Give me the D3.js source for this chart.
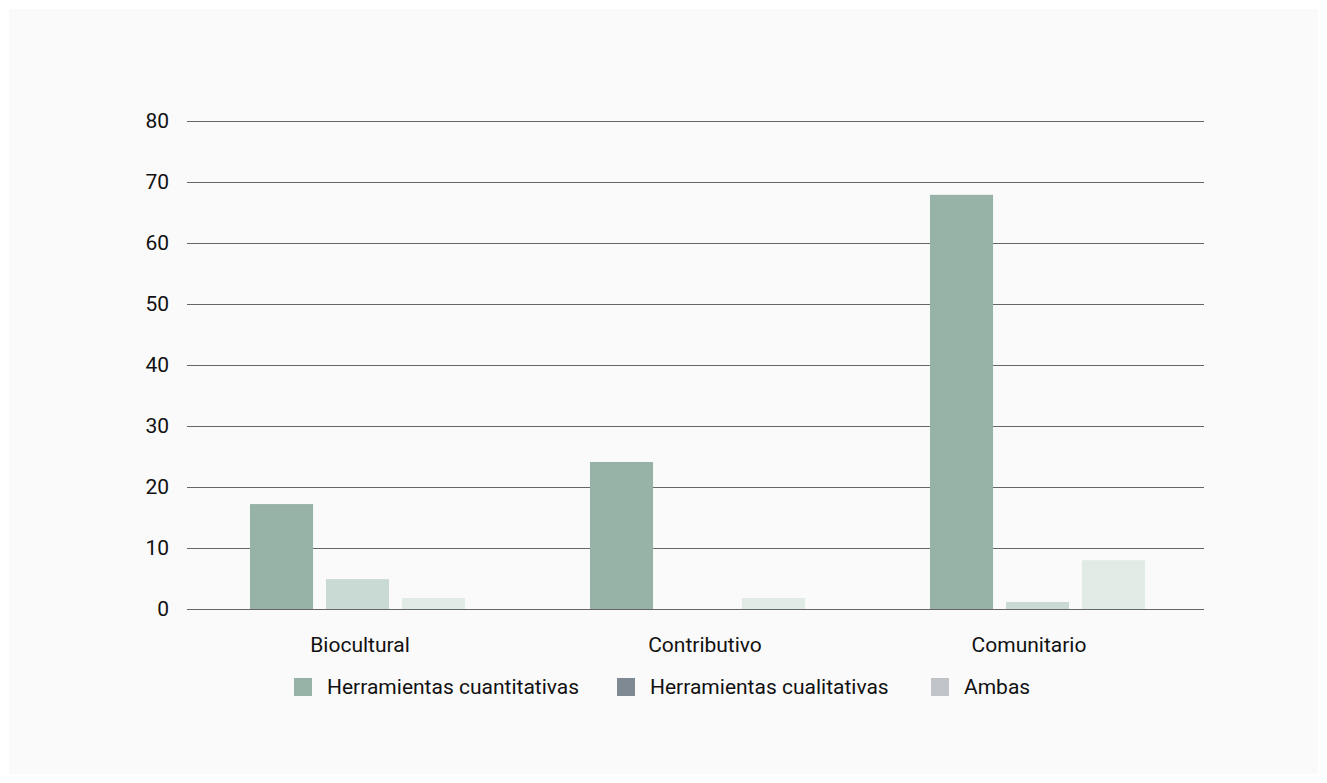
<!DOCTYPE html>
<html lang="es">
  <head>
    <meta charset="utf-8">
    <title>Herramientas por enfoque</title>
    <script src="https://cdnjs.cloudflare.com/ajax/libs/d3/7.8.5/d3.min.js"></script>
    <style type="text/css">
      body {
        margin: 0;
        background: #ffffff;
      }
      .tick-label, .cat-label, .legend-label {
        font-family: 'Roboto', sans-serif;
        font-size: 21px;
        fill: #111;
      }
    </style>
  </head>
  <body>
    <svg id="chart"></svg>
    <script type="text/javascript">
var categories = ["Biocultural", "Contributivo", "Comunitario"];
var series = ["Herramientas cuantitativas", "Herramientas cualitativas", "Ambas"];
var cuantitativas = [17.2, 24.1, 67.9];
var cualitativas = [4.9, 0, 1.15];
var ambas = [1.8, 1.8, 8.0];
var yTicks = [0, 10, 20, 30, 40, 50, 60, 70, 80];

var barColors = ["#97b2a7", "#c9d9d3", "#e0ebe6"];
var legendColors = ["#97b2a7", "#7f8993", "#c0c4c8"];

var values = [cuantitativas, cualitativas, ambas];

var w = 1327;
var h = 783;

var svg = d3.select("#chart")
  .attr("width", w)
  .attr("height", h);

// background panel
svg.append("rect")
  .attr("x", 9)
  .attr("y", 9)
  .attr("width", 1309)
  .attr("height", 765)
  .attr("fill", "#fafafa");

var x0 = d3.scaleBand().domain(categories).range([187, 1207]);
var x1 = d3.scaleBand().domain(series).range([63, 278]).paddingInner(0.17);
var yScale = d3.scaleLinear().domain([0, 80]).range([609, 121]);

// gridlines
svg.append("g").selectAll("line")
  .data(yTicks)
  .enter().append("line")
  .attr("x1", 187)
  .attr("x2", 1204)
  .attr("y1", function(d) { return Math.round(yScale(d)) + 0.5; })
  .attr("y2", function(d) { return Math.round(yScale(d)) + 0.5; })
  .attr("stroke", "#666")
  .attr("stroke-width", 1);

// y labels
svg.append("g").selectAll("text")
  .data(yTicks)
  .enter().append("text")
  .attr("class", "tick-label")
  .attr("x", 169)
  .attr("y", function(d) { return yScale(d) + 7; })
  .attr("text-anchor", "end")
  .text(function(d) { return d; });

// bars
series.forEach(function(s, si) {
  svg.append("g").selectAll("rect")
    .data(categories)
    .enter().append("rect")
    .attr("x", function(c) { return x0(c) + x1(s); })
    .attr("width", x1.bandwidth())
    .attr("y", function(c, i) { return yScale(values[si][i]); })
    .attr("height", function(c, i) { return yScale(0) - yScale(values[si][i]); })
    .attr("fill", barColors[si]);
});

// redraw the zero line over the bars
svg.append("line")
  .attr("x1", 187)
  .attr("x2", 1204)
  .attr("y1", Math.round(yScale(0)) + 0.5)
  .attr("y2", Math.round(yScale(0)) + 0.5)
  .attr("stroke", "#666");

// category labels (nudged like the original)
var labelNudge = [3, 8, -8];
svg.append("g").selectAll("text")
  .data(categories)
  .enter().append("text")
  .attr("class", "cat-label")
  .attr("x", function(c, i) { return x0(c) + x0.bandwidth() / 2 + labelNudge[i]; })
  .attr("y", 652)
  .attr("text-anchor", "middle")
  .text(function(c) { return c; });

// legend
var legendX = [294, 617, 931];
var legend = svg.append("g").selectAll("g")
  .data(series)
  .enter().append("g")
  .attr("transform", function(d, i) { return "translate(" + legendX[i] + ",678)"; });

legend.append("rect")
  .attr("width", 18)
  .attr("height", 18)
  .attr("fill", function(d, i) { return legendColors[i]; });

legend.append("text")
  .attr("class", "legend-label")
  .attr("x", 33)
  .attr("y", 16)
  .text(function(d) { return d; });
    </script>
  </body>
</html>
